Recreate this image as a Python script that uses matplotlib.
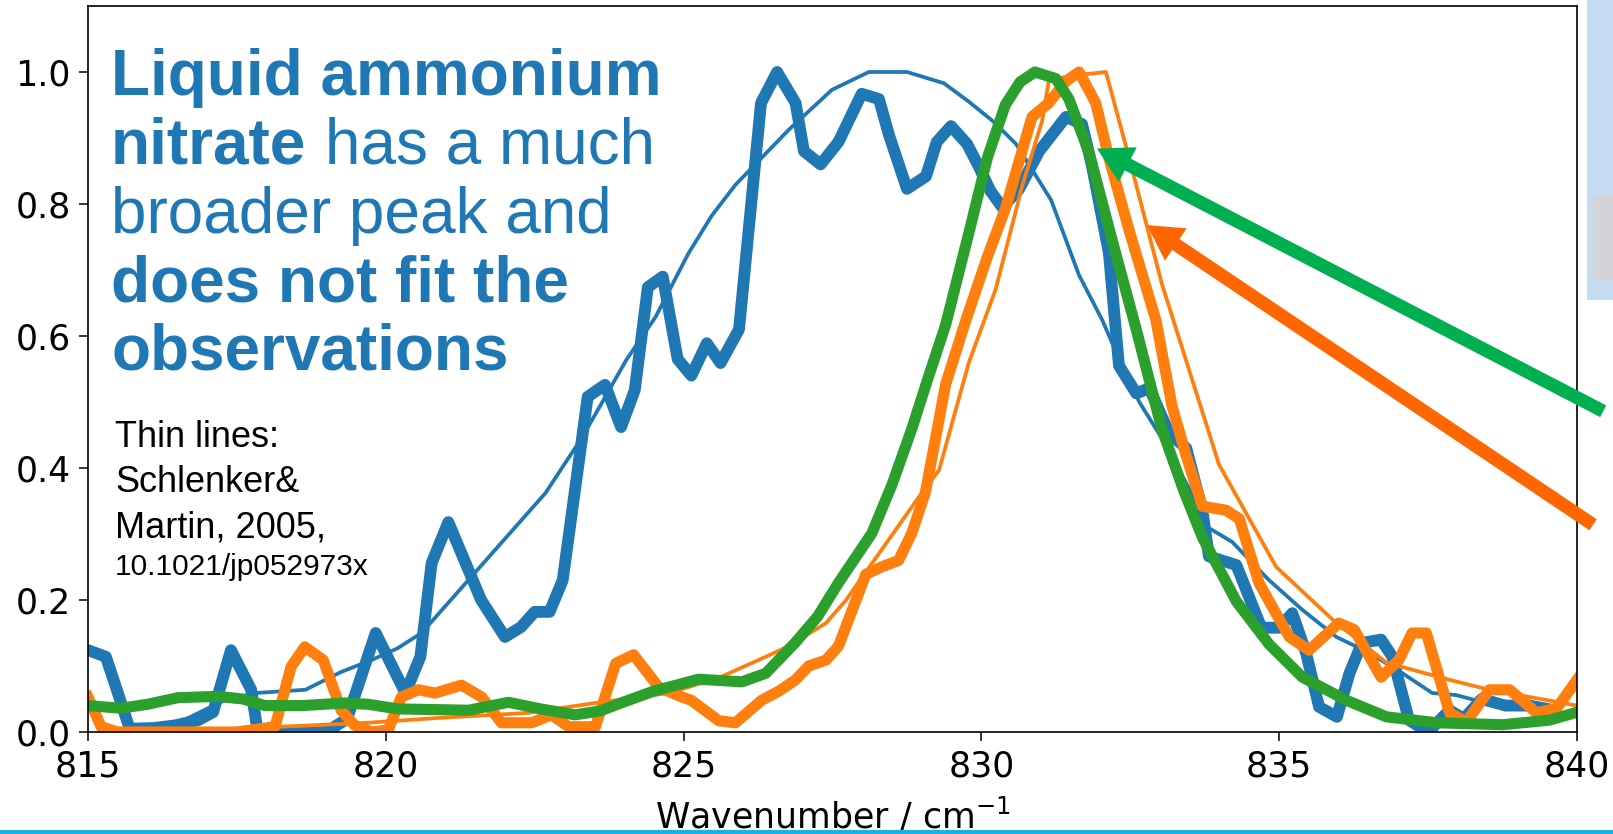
import matplotlib
matplotlib.use('Agg')
import matplotlib.pyplot as plt
from matplotlib.patches import Rectangle

W, H = 1613, 834

# thick lines: measured spectra
blue_x = [815.0, 815.3, 815.7, 816.1, 816.46, 816.85, 817.1, 817.4, 817.74, 817.85, 818.2, 818.6,
          819.0, 819.35, 819.83, 820.33, 820.58, 820.77, 821.05, 821.39, 821.6, 822.0, 822.27,
          822.5, 822.75, 822.97, 823.39, 823.68, 823.95, 824.18, 824.4, 824.65, 824.9, 825.13,
          825.39, 825.62, 825.93, 826.3, 826.57, 826.88, 827.02, 827.3, 827.6, 827.99, 828.28,
          828.45, 828.75, 829.07, 829.25, 829.49, 829.76, 829.96, 830.15, 830.35, 830.63, 830.97,
          831.42, 831.69, 831.86, 832.14, 832.31, 832.6, 832.82, 833.15, 833.44, 833.71, 833.82,
          834.28, 834.7, 835.0, 835.22, 835.45, 835.67, 835.97, 836.18, 836.39, 836.71, 836.9,
          837.18, 837.5, 837.86, 838.1, 838.4, 838.8, 839.2, 839.5]
blue_y = [0.124, 0.114, 0.005, 0.006, 0.01, 0.018, 0.03, 0.124, 0.064, 0.0, 0.0, 0.0,
          0.0, 0.02, 0.15, 0.059, 0.114, 0.256, 0.318, 0.245, 0.2, 0.144, 0.159,
          0.182, 0.182, 0.23, 0.508, 0.526, 0.462, 0.518, 0.674, 0.69, 0.565, 0.54,
          0.589, 0.559, 0.61, 0.953, 1.0, 0.953, 0.88, 0.86, 0.894, 0.967, 0.959,
          0.904, 0.823, 0.842, 0.894, 0.918, 0.891, 0.856, 0.82, 0.795, 0.822, 0.88,
          0.932, 0.921, 0.856, 0.726, 0.555, 0.513, 0.521, 0.453, 0.43, 0.336, 0.266,
          0.253, 0.158, 0.158, 0.18, 0.12, 0.038, 0.023, 0.089, 0.135, 0.14, 0.114,
          0.018, 0.0, 0.033, 0.02, 0.05, 0.04, 0.04, 0.035]

orange_x = [815.0, 815.22, 815.5, 816.0, 816.5, 817.0, 817.5, 818.14, 818.41, 818.64, 818.95,
            819.25, 819.48, 819.76, 820.04, 820.26, 820.55, 820.83, 821.27, 821.61, 821.94,
            822.45, 822.78, 823.07, 823.52, 823.86, 824.16, 824.58, 824.97, 825.13, 825.59,
            825.87, 826.31, 826.6, 826.88, 827.1, 827.39, 827.6, 828.06, 828.32, 828.61,
            828.83, 829.06, 829.4, 829.74, 830.1, 830.41, 830.63, 830.85, 831.13, 831.42,
            831.64, 831.92, 832.14, 832.48, 832.93, 833.2, 833.44, 833.71, 834.11, 834.33,
            834.66, 834.95, 835.17, 835.5, 836.0, 836.26, 836.71, 837.01, 837.23, 837.47,
            837.86, 838.14, 838.53, 838.87, 839.32, 839.66, 840.0]
orange_y = [0.053, 0.008, 0.0, 0.0, 0.0, 0.0, 0.0, 0.008, 0.099, 0.129, 0.109,
            0.033, 0.01, 0.0, 0.003, 0.053, 0.064, 0.059, 0.071, 0.053, 0.014,
            0.014, 0.026, 0.008, 0.008, 0.104, 0.117, 0.068, 0.053, 0.048, 0.017,
            0.014, 0.048, 0.062, 0.079, 0.1, 0.109, 0.13, 0.239, 0.25, 0.26,
            0.301, 0.363, 0.527, 0.624, 0.72, 0.795, 0.864, 0.932, 0.953, 0.986,
            1.0, 0.953, 0.87, 0.76, 0.624, 0.494, 0.418, 0.342, 0.336, 0.323,
            0.226, 0.179, 0.144, 0.124, 0.165, 0.155, 0.083, 0.109, 0.15, 0.15,
            0.029, 0.015, 0.064, 0.064, 0.029, 0.036, 0.079]

# model fit
green_x = [815.0, 815.55, 816.0, 816.51, 817.18, 817.6, 817.97, 818.6, 819.32, 819.7, 820.2,
           820.8, 821.39, 822.06, 822.6, 823.18, 823.6, 823.95, 824.5, 825.25, 825.98, 826.38,
           826.88, 827.25, 827.6, 828.16, 828.5, 828.83, 829.1, 829.4, 829.8, 830.1, 830.4,
           830.65, 830.9, 831.25, 831.47, 831.81, 832.19, 832.6, 833.03, 833.4, 833.71, 834.28,
           834.83, 835.39, 836.13, 836.8, 837.64, 838.75, 839.54, 840.0]
green_y = [0.04, 0.036, 0.042, 0.052, 0.054, 0.05, 0.04, 0.04, 0.044, 0.042, 0.035,
           0.034, 0.033, 0.045, 0.035, 0.026, 0.032, 0.044, 0.062, 0.08, 0.076, 0.089,
           0.136, 0.175, 0.226, 0.301, 0.375, 0.459, 0.535, 0.617, 0.76, 0.87, 0.95,
           0.985, 1.0, 0.99, 0.959, 0.877, 0.747, 0.61, 0.459, 0.365, 0.295, 0.198,
           0.133, 0.083, 0.048, 0.023, 0.014, 0.011, 0.018, 0.03]

# thin lines: Schlenker & Martin 2005
lit_blue_x = [815.8, 816.4, 816.68, 817.24, 817.8, 818.65, 819.25, 819.76, 820.2, 820.6, 822.68,
              823.3, 824.04, 824.53, 825.08, 825.47, 825.87, 826.31, 826.76, 827.49, 828.11,
              828.75, 829.37, 829.79, 830.2, 830.58, 831.17, 831.64, 832.03, 832.26, 832.65,
              833.03, 833.44, 833.82, 834.21, 834.83, 835.39, 835.96, 836.51, 837.07, 837.57,
              837.97, 838.3, 838.8, 839.5]
lit_blue_y = [0.005, 0.01, 0.021, 0.046, 0.059, 0.064, 0.091, 0.109, 0.127, 0.15, 0.362,
              0.447, 0.564, 0.629, 0.725, 0.782, 0.829, 0.87, 0.912, 0.973, 1.0,
              1.0, 0.983, 0.955, 0.925, 0.891, 0.806, 0.692, 0.624, 0.576, 0.5,
              0.445, 0.377, 0.309, 0.288, 0.23, 0.185, 0.144, 0.12, 0.089, 0.059,
              0.056, 0.048, 0.038, 0.036]

lit_orange_x = [815.2, 817.5, 819.7, 820.83, 822.4, 823.52, 824.75, 825.59, 826.38, 826.76,
                827.39, 827.72, 828.95, 829.29, 829.79, 830.24, 830.69, 831.02, 831.13, 831.47,
                832.09, 832.48, 833.03, 833.99, 834.95, 835.9, 836.8, 837.86, 838.53, 839.76, 840.0]
lit_orange_y = [0.0, 0.005, 0.014, 0.021, 0.029, 0.044, 0.059, 0.082, 0.114, 0.13,
                0.165, 0.199, 0.356, 0.397, 0.56, 0.671, 0.829, 0.926, 0.986, 0.994,
                1.0, 0.87, 0.679, 0.405, 0.25, 0.17, 0.105, 0.079, 0.064, 0.044, 0.04]

xticks = [815, 820, 825, 830, 835, 840]
yticks = [0.0, 0.2, 0.4, 0.6, 0.8, 1.0]

BLUE = '#1f77b4'


def fx(px):
    return px / W


def fy(py):
    return 1 - py / H


fig = plt.figure(figsize=(W / 100, H / 100), dpi=100)
fig.patch.set_facecolor('white')
ax = fig.add_axes([fx(88), fy(732), fx(1577) - fx(88), fy(6) - fy(732)])

ax.plot(lit_blue_x, lit_blue_y, color='tab:blue', lw=2.7)
ax.plot(blue_x, blue_y, color='tab:blue', lw=8.5)
ax.plot(lit_orange_x, lit_orange_y, color='tab:orange', lw=2.7)
ax.plot(orange_x, orange_y, color='tab:orange', lw=8)
ax.plot(green_x, green_y, color='tab:green', lw=8)

ax.set_xlim(815, 840)
ax.set_ylim(0, 1.1)
ax.set_xticks(xticks)
ax.set_yticks(yticks)
ax.set_yticklabels(['%.1f' % v for v in yticks])
ax.tick_params(labelsize=25, length=6.5, width=1.1, pad=6)
for s in ax.spines.values():
    s.set_linewidth(1.2)
ax.set_xlabel('Wavenumber / cm$^{-1}$', fontsize=25, labelpad=9)

# arrows pointing at the peaks
ax.annotate('', xy=(831.94, 0.884), xytext=(840.44, 0.486), annotation_clip=False,
            arrowprops=dict(arrowstyle='simple,head_length=2.5,head_width=2.8,tail_width=0.95',
                            mutation_scale=10, color='#00B050', lw=0, shrinkA=0, shrinkB=0))
ax.annotate('', xy=(832.78, 0.768), xytext=(840.27, 0.314), annotation_clip=False,
            arrowprops=dict(arrowstyle='simple,head_length=2.5,head_width=2.8,tail_width=0.95',
                            mutation_scale=10, color='#FF6600', lw=0, shrinkA=0, shrinkB=0))

# headline text
big = dict(fontsize=46, color=BLUE, family='Liberation Sans', va='baseline')
fig.text(fx(111), fy(95), 'Liquid ammonium', fontweight='bold', **big)
t = fig.text(fx(111), fy(163), 'nitrate', fontweight='bold', **big)
r = fig.canvas.get_renderer()
bb = t.get_window_extent(r)
fig.text((bb.x1 + 19) / W, fy(163), 'has a much', **big)
fig.text(fx(111), fy(233), 'broader peak and', **big)
fig.text(fx(111), fy(302), 'does not fit the', fontweight='bold', **big)
fig.text(fx(111), fy(370), 'observations', fontweight='bold', **big)

small = dict(color='black', family='Liberation Sans', va='baseline')
fig.text(fx(115), fy(447), 'Thin lines:', fontsize=26, **small)
fig.text(fx(115), fy(492), 'Schlenker&', fontsize=26, **small)
fig.text(fx(115), fy(537), 'Martin, 2005,', fontsize=26, **small)
fig.text(fx(115), fy(575), '10.1021/jp052973x', fontsize=21.5, **small)

# slide bits around the picture
fig.patches.append(Rectangle((fx(1587), fy(300)), fx(26), 300 / H, transform=fig.transFigure,
                             facecolor='#C5DCF2', edgecolor='none'))
fig.patches.append(Rectangle((fx(1593), fy(280)), fx(20), 85 / H, transform=fig.transFigure,
                             facecolor='#D3D3D8', edgecolor='none'))
fig.patches.append(Rectangle((0, 0), 1, 4 / H, transform=fig.transFigure,
                             facecolor='#1AAFE6', edgecolor='none', zorder=5))

fig.savefig('out.png', dpi=100)
